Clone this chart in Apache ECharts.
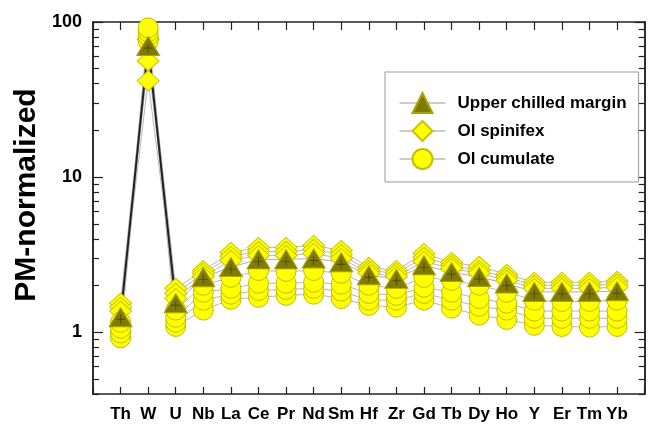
<!DOCTYPE html>
<html>
<head>
<meta charset="utf-8">
<script src="https://cdn.jsdelivr.net/npm/echarts@6/dist/echarts.min.js"></script>
<style>
html,body{margin:0;padding:0;background:#fff;}
#c{width:650px;height:424px;}
</style>
</head>
<body>
<div id="c"></div>
<script>
const categories = ['Th','W','U','Nb','La','Ce','Pr','Nd','Sm','Hf','Zr','Gd','Tb','Dy','Ho','Y','Er','Tm','Yb'];
const yTickLabels = [1, 10, 100];
const yMinorTicks = [0.4,0.5,0.6,0.7,0.8,0.9,2,3,4,5,6,7,8,9,20,30,40,50,60,70,80,90];

const upperChilled = [1.25, 70.1, 1.54, 2.26, 2.63, 2.95, 2.95, 2.99, 2.83, 2.33, 2.21, 2.70, 2.44, 2.27, 2.06, 1.82, 1.82, 1.82, 1.84];

const spinifex1 = [1.54, 77.8, 1.92, 2.50, 3.27, 3.52, 3.52, 3.63, 3.37, 2.62, 2.50, 3.22, 2.82, 2.66, 2.36, 2.10, 2.10, 2.10, 2.13];
const spinifex2 = [1.45, 56.1, 1.78, 2.40, 3.08, 3.32, 3.32, 3.42, 3.17, 2.50, 2.40, 3.04, 2.70, 2.50, 2.26, 2.01, 2.01, 2.01, 2.04];
const spinifex3 = [1.37, 41.8, 1.65, 2.29, 2.90, 3.13, 3.13, 3.22, 2.99, 2.40, 2.29, 2.86, 2.58, 2.40, 2.16, 1.92, 1.92, 1.92, 1.95];

const cumulate1 = [1.16, 91.5, 1.39, 2.01, 2.26, 2.50, 2.47, 2.50, 2.40, 2.01, 1.92, 2.26, 2.16, 2.01, 1.81, 1.61, 1.58, 1.58, 1.61];
const cumulate2 = [1.06, 86.3, 1.25, 1.81, 1.92, 2.07, 2.07, 2.10, 2.04, 1.78, 1.73, 1.95, 1.81, 1.65, 1.54, 1.37, 1.37, 1.37, 1.37];
const cumulate3 = [0.99, 81.3, 1.16, 1.61, 1.76, 1.86, 1.89, 1.92, 1.84, 1.61, 1.61, 1.78, 1.61, 1.47, 1.39, 1.23, 1.23, 1.23, 1.23];
const cumulate4 = [0.92, 75.5, 1.09, 1.39, 1.63, 1.68, 1.73, 1.76, 1.65, 1.49, 1.45, 1.61, 1.43, 1.29, 1.21, 1.11, 1.09, 1.08, 1.09];

const NAME_UCM = 'Upper chilled margin';
const NAME_SPX = 'Ol spinifex';
const NAME_CUM = 'Ol cumulate';

const FONT = '"Liberation Sans", Arial, sans-serif';
const xCats = [''].concat(categories, [' ']);

function pairs(arr) { return arr.map((v, i) => [categories[i], v]); }

function lineSeries(data, color, width) {
  return {
    type: 'line', name: '_l', data: data, symbol: 'none', z: 1,
    lineStyle: { color: color, width: width }, silent: true, animation: false
  };
}
function markerSeries(name, arr, symbol, size, fill, border) {
  return {
    type: 'line', name: name, data: pairs(arr), symbol: symbol, symbolSize: size,
    showSymbol: true, showAllSymbol: true, z: 3,
    lineStyle: { width: 0 },
    itemStyle: { color: fill, borderColor: border, borderWidth: 1, opacity: 1 },
    animation: false
  };
}

const series = [];
[cumulate1, cumulate2, cumulate3, cumulate4, spinifex1, spinifex2, spinifex3].forEach(a => series.push(lineSeries(pairs(a), '#b8b8b8', 1)));
series.push(lineSeries(pairs(upperChilled).slice(2), '#b0b0b0', 1));
series.push(lineSeries(pairs(upperChilled).slice(0, 3), '#222', 2));

[spinifex1, spinifex2, spinifex3].forEach(a => series.push(markerSeries(NAME_SPX, a, 'diamond', [22, 20], '#ffff00', '#c9c400')));
[cumulate4, cumulate3, cumulate2, cumulate1].forEach(a => series.push(markerSeries(NAME_CUM, a, 'circle', 20, '#ffff00', '#c2bd00')));
series.push(markerSeries(NAME_UCM, upperChilled, 'triangle', [23, 19], '#7f7b00', '#aaa500'));
series.push({
  type: 'line', name: '_plus', data: pairs(upperChilled),
  symbol: 'path://M4.5,0 L5.5,0 L5.5,4.5 L10,4.5 L10,5.5 L5.5,5.5 L5.5,10 L4.5,10 L4.5,5.5 L0,5.5 L0,4.5 L4.5,4.5 Z',
  symbolSize: 9, symbolOffset: [0, 2], showSymbol: true, showAllSymbol: true, z: 4,
  lineStyle: { width: 0 }, itemStyle: { color: '#4a4700' }, silent: true, animation: false
});

const axisLineStyle = { color: '#222', width: 1.5 };

function yAx(pos, ticks, len, labels) {
  return {
    type: 'log', logBase: 10, min: 0.4, max: 100, position: pos,
    axisLine: { show: true, lineStyle: axisLineStyle },
    axisTick: { show: true, inside: true, length: len, customValues: ticks, lineStyle: { color: '#222', width: 1.2 } },
    axisLabel: labels ? {
      show: true, customValues: yTickLabels, margin: 11,
      fontFamily: FONT, fontWeight: 'bold', fontSize: 18, color: '#000',
      formatter: v => String(Math.round(v))
    } : { show: false },
    splitLine: { show: false }
  };
}

const option = {
  backgroundColor: '#fff',
  animation: false,
  grid: { left: 93, right: 1, top: 22, bottom: 30, containLabel: false },
  xAxis: [
    {
      type: 'category', data: xCats, boundaryGap: false, position: 'bottom',
      axisLine: { show: true, lineStyle: axisLineStyle },
      axisTick: { show: true, inside: true, length: 7, interval: 0, lineStyle: { color: '#222', width: 1.2 } },
      axisLabel: { show: true, interval: 0, margin: 12, fontFamily: FONT, fontWeight: 'bold', fontSize: 17, color: '#000' },
      splitLine: { show: false }
    },
    {
      type: 'category', data: xCats, boundaryGap: false, position: 'top',
      axisLine: { show: true, lineStyle: axisLineStyle },
      axisTick: { show: true, inside: true, length: 8, interval: 0, lineStyle: { color: '#222', width: 1.2 } },
      axisLabel: { show: false },
      splitLine: { show: false }
    }
  ],
  yAxis: [
    yAx('left', yTickLabels, 10, true),
    yAx('left', yMinorTicks, 6, false),
    yAx('right', yTickLabels, 10, false),
    yAx('right', yMinorTicks, 6, false)
  ],
  legend: {
    data: [NAME_UCM, NAME_SPX, NAME_CUM],
    orient: 'vertical', left: 385, top: 72,
    padding: [20, 12, 12, 14],
    itemWidth: 46, itemHeight: 25, itemGap: 6,
    borderColor: '#999', borderWidth: 1,
    backgroundColor: '#fff',
    lineStyle: { color: '#999', width: 1 },
    textStyle: { fontFamily: FONT, fontWeight: 'bold', fontSize: 17, color: '#000', padding: [0, 0, 0, 7] },
    selectedMode: false
  },
  graphic: [{
    type: 'text', x: 27, y: 195, rotation: Math.PI / 2,
    style: { text: 'PM-normalized', font: 'bold 30px ' + FONT, fill: '#000', align: 'center', verticalAlign: 'middle' }
  }],
  series: series
};

const chart = echarts.init(document.getElementById('c'), null, { renderer: 'canvas' });
chart.setOption(option);
</script>
</body>
</html>
